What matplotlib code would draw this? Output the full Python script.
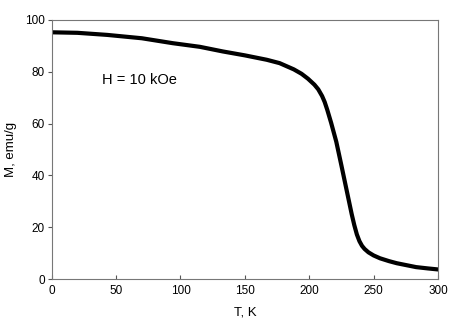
import matplotlib
matplotlib.use("Agg")
import matplotlib.pyplot as plt

plt.rcParams['font.family'] = ['Liberation Sans', 'DejaVu Sans']

# magnetization vs temperature
temp = [0, 20, 43, 70, 94, 115, 133, 150, 167, 177, 188, 194, 199, 204, 207,
        210, 212, 214, 217, 221, 225, 229, 233, 235, 237, 239, 241, 243, 246,
        250, 255, 262, 268, 276, 283, 292, 300]
mag = [95.2, 95.0, 94.2, 92.9, 91.0, 89.6, 87.8, 86.3, 84.6, 83.3, 80.9, 79.2,
       77.3, 75.0, 73.2, 70.6, 68.3, 65.3, 60.3, 53.0, 43.8, 34.4, 25.0, 20.8,
       17.2, 14.6, 12.8, 11.6, 10.3, 9.1, 8.0, 6.9, 6.1, 5.3, 4.6, 4.1, 3.7]

fig = plt.figure(figsize=(4.62, 3.31), dpi=100)
ax = fig.add_axes([0.112, 0.157, 0.836, 0.783])

ax.plot(temp, mag, c='black', lw=3.0, solid_capstyle='round', solid_joinstyle='round')

ax.set_xlim(0, 300)
ax.set_ylim(0, 100)
ax.set_xticks([0, 50, 100, 150, 200, 250, 300])
ax.set_yticks([0, 20, 40, 60, 80, 100])
ax.tick_params(axis='x', direction='in', length=3, labelsize=8.5, color='#555555', pad=4)
ax.tick_params(axis='y', direction='out', length=3, labelsize=8.5, color='#555555', pad=2)
for s in ax.spines.values():
    s.set_color('#777777')
    s.set_linewidth(0.8)

ax.set_xlabel('T, K', fontsize=9.5, labelpad=7)
ax.set_ylabel('M, emu/g', fontsize=9.5, labelpad=6)
ax.text(39, 76.8, 'H = 10 kOe', fontsize=10.5, va='center', ha='left')

fig.savefig('out.png', dpi=100)
